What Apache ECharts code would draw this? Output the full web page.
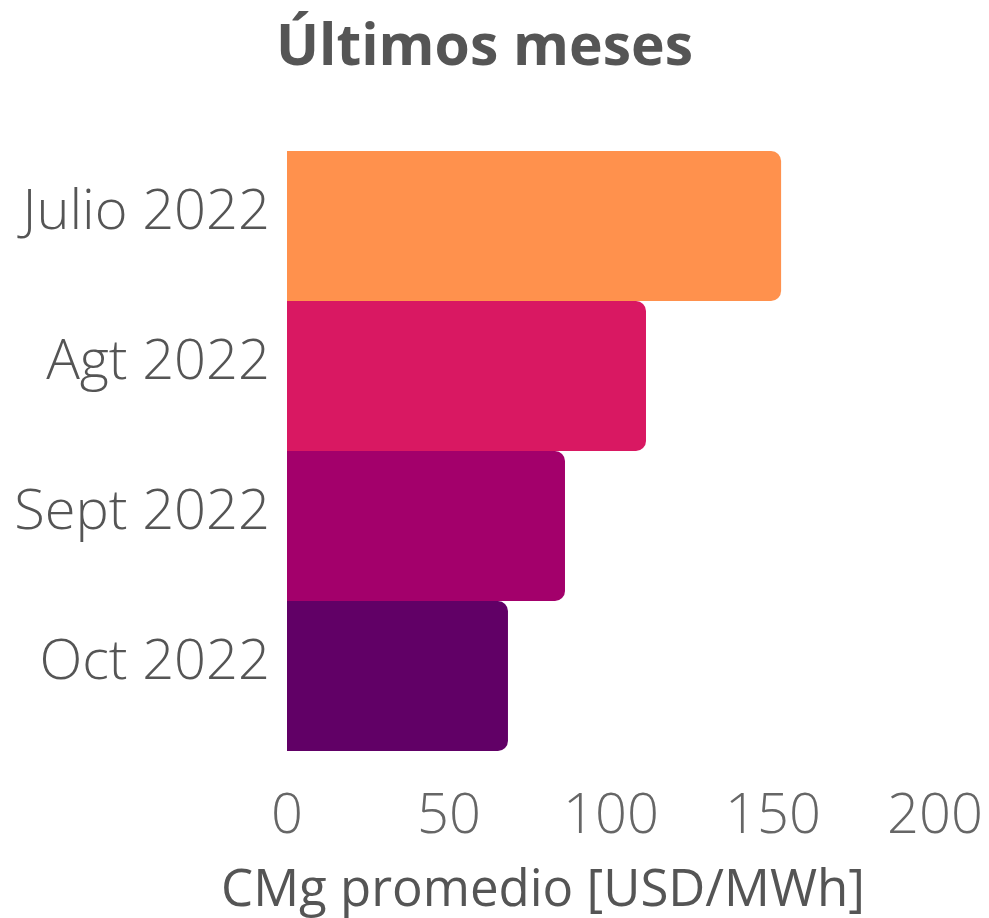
<!DOCTYPE html>
<html>
<head>
<meta charset="utf-8">
<script src="https://cdn.jsdelivr.net/npm/echarts@6/dist/echarts.min.js"></script>
<style>
  html, body { margin: 0; padding: 0; background: #fff; }
  #chart { width: 989px; height: 918px; }
</style>
</head>
<body>
<div id="chart"></div>
<script>
// datos
const months = ['Julio 2022', 'Agt 2022', 'Sept 2022', 'Oct 2022']
const cmgValues = [152.5, 110.8, 85.8, 68.2]
const barColors = ['#ff914d', '#d91862', '#a3006b', '#610066']
const xTicks = [0, 50, 100, 150, 200]

const chart = echarts.init(document.getElementById('chart'))
const font = '"Open Sans", "Noto Sans", sans-serif'

const option = {
  backgroundColor: '#fff',
  animation: false,
  title: {
    text: 'Últimos meses',
    left: 271,
    top: 15,
    textStyle: { fontFamily: font, fontWeight: 'bold', fontSize: 57, color: '#555555' }
  },
  grid: { left: 287, right: 54, top: 151, bottom: 167, outerBoundsMode: 'none' },
  xAxis: {
    type: 'value',
    min: xTicks[0],
    max: xTicks[xTicks.length - 1],
    interval: 50,
    name: 'CMg promedio [USD/MWh]',
    nameLocation: 'middle',
    nameGap: 115,
    nameTextStyle: { fontFamily: font, fontSize: 51, color: '#555555', padding: [0, 136, 0, 0] },
    axisLine: { show: false },
    axisTick: { show: false },
    splitLine: { show: false },
    axisLabel: {
      margin: 38,
      fontFamily: font,
      fontWeight: 300,
      fontSize: 56,
      color: '#666666'
    }
  },
  yAxis: {
    type: 'category',
    inverse: true,
    data: months,
    axisLine: { show: false },
    axisTick: { show: false },
    axisLabel: {
      margin: 17,
      fontFamily: font,
      fontWeight: 300,
      fontSize: 56,
      color: '#555555',
      verticalAlign: 'bottom',
      lineHeight: 26
    }
  },
  series: [
    {
      type: 'bar',
      barCategoryGap: '0%',
      data: cmgValues.map((v, i) => ({
        value: v,
        itemStyle: { color: barColors[i] }
      })),
      itemStyle: { borderRadius: [0, 10, 10, 0] }
    }
  ]
}

chart.setOption(option)
window.addEventListener('resize', () => chart.resize())
</script>
</body>
</html>
